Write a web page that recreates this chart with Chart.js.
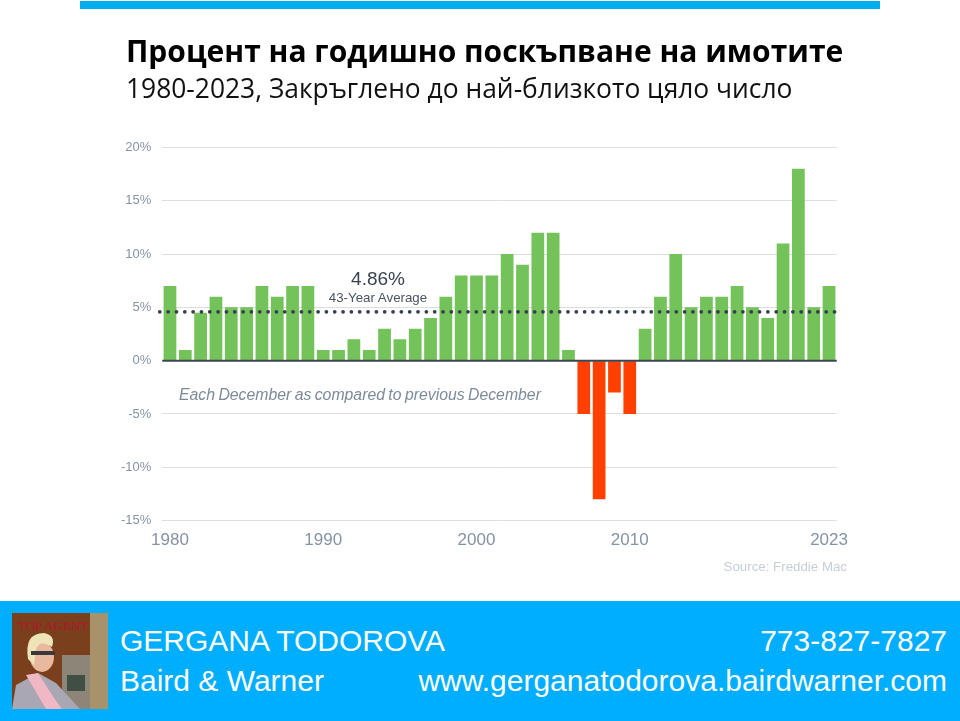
<!DOCTYPE html>
<html lang="bg">
<head>
<meta charset="utf-8">
<title>Процент на годишно поскъпване на имотите</title>
<script src="https://cdn.jsdelivr.net/npm/chart.js@4/dist/chart.umd.min.js"></script>
<style>
  html, body { margin: 0; padding: 0; background: #fff; }
  #page { position: relative; width: 960px; height: 721px; overflow: hidden; }
  #page canvas { position: absolute; left: 0; top: 0; }
  .txt { position: absolute; white-space: nowrap; font-family: "Liberation Sans", Arial, sans-serif; line-height: 1; }
  #topbar { position: absolute; left: 80px; top: 1px; width: 800px; height: 8px; background: #00aeef; }
  #title { left: 126px; top: 33px; font: 700 30px/1.2 "Open Sans", sans-serif; color: #000; }
  #subtitle { left: 126px; top: 73px; font: 400 26.4px/1.2 "Open Sans", sans-serif; color: #111; }
  #avgValue { left: 378px; top: 269px; transform: translateX(-50%); font-size: 19px; color: #3b4350; }
  #avgLabel { left: 378px; top: 291px; transform: translateX(-50%); font-size: 13.3px; color: #4a5360; }
  #note { left: 179px; top: 387px; font-size: 15.8px; font-style: italic; color: #7d8a9b; word-spacing: -1px; }
  #source { right: 113px; top: 560px; font-size: 13.3px; color: #c8ced6; }
  #footer { position: absolute; left: 0; top: 601px; width: 960px; height: 120px; background: #00aeff; }
  #photo { position: absolute; left: 12px; top: 12px; width: 96px; height: 96px; }
  .foot { color: #fff; font-size: 30px; }
</style>
</head>
<body>
<div id="page">
  <div id="topbar"></div>
  <canvas id="chart" width="960" height="721"></canvas>
  <div class="txt" id="title">Процент на годишно поскъпване на имотите</div>
  <div class="txt" id="subtitle">1980-2023, Закръглено до най-близкото цяло число</div>
  <div class="txt" id="avgValue">4.86%</div>
  <div class="txt" id="avgLabel">43-Year Average</div>
  <div class="txt" id="note">Each December as compared to previous December</div>
  <div class="txt" id="source">Source: Freddie Mac</div>
  <div id="footer">
    <svg id="photo" viewBox="0 0 96 96">
      <rect width="96" height="96" fill="#7a3f1c"/>
      <rect x="78" width="18" height="96" fill="#a8926a"/>
      <rect x="50" y="42" width="28" height="54" fill="#8d8578"/>
      <rect x="55" y="62" width="18" height="16" fill="#3f4f45"/>
      <path d="M0 96 L4 72 L26 60 L44 70 L68 96 Z" fill="#a9a7b3"/>
      <path d="M14 62 L26 60 L44 88 L50 96 L34 96 Z" fill="#f0b8c4"/>
      <ellipse cx="30" cy="44" rx="12" ry="15" fill="#e8b99e"/>
      <path d="M16 46 Q12 20 32 20 Q44 22 40 34 Q28 26 24 36 L22 52 Z" fill="#efe3b8"/>
      <rect x="19" y="38" width="24" height="4" fill="#3a3a3a"/>
      <text x="6" y="17" font-family="Liberation Serif, serif" font-size="13" fill="#b5132e">TOP AGENT</text>
    </svg>
    <div class="txt foot" style="left:120px;top:25px">GERGANA TODOROVA</div>
    <div class="txt foot" style="left:120px;top:65px">Baird &amp; Warner</div>
    <div class="txt foot" style="right:13px;top:25px">773-827-7827</div>
    <div class="txt foot" style="right:13px;top:65px">www.gerganatodorova.bairdwarner.com</div>
  </div>
</div>
<script>
// Data
const years = [1980,1981,1982,1983,1984,1985,1986,1987,1988,1989,1990,1991,1992,1993,1994,1995,1996,1997,1998,1999,2000,2001,2002,2003,2004,2005,2006,2007,2008,2009,2010,2011,2012,2013,2014,2015,2016,2017,2018,2019,2020,2021,2022,2023];
const appreciation = [7,1,4.5,6,5,5,7,6,7,7,1,1,2,1,3,2,3,4,6,8,8,8,10,9,12,12,1,-5,-13,-3,-5,3,6,10,5,6,6,7,5,4,11,18,5,7];
const labelledYears = [1980,1990,2000,2010,2023];
const averageLevel = 4.58;

const GREEN = '#73c25a';
const RED = '#ff4000';
const TICK_GREY = '#8593a5';

// Zero baseline and dotted average line, placed with the y scale
const referenceLines = {
    id: 'referenceLines',
    afterDatasetsDraw(chart) {
        const ctx = chart.ctx;
        const area = chart.chartArea;
        const y = chart.scales.y;

        ctx.save();
        ctx.strokeStyle = '#3c4650';
        ctx.lineWidth = 2;
        ctx.beginPath();
        ctx.moveTo(area.left, y.getPixelForValue(0));
        ctx.lineTo(area.right, y.getPixelForValue(0));
        ctx.stroke();

        ctx.strokeStyle = '#363f4c';
        ctx.lineWidth = 3.8;
        ctx.lineCap = 'round';
        ctx.setLineDash([0, 8.33]);
        ctx.beginPath();
        ctx.moveTo(area.left - 2.5, y.getPixelForValue(averageLevel));
        ctx.lineTo(area.right, y.getPixelForValue(averageLevel));
        ctx.stroke();
        ctx.restore();
    }
};

new Chart(document.getElementById('chart').getContext('2d'), {
    type: 'bar',
    data: {
        labels: years,
        datasets: [{
            data: appreciation,
            backgroundColor: appreciation.map(v => v < 0 ? RED : GREEN),
            borderWidth: 0,
            barPercentage: 0.83,
            categoryPercentage: 1
        }]
    },
    plugins: [referenceLines],
    options: {
        responsive: false,
        animation: false,
        layout: { padding: { top: 147.5, right: 123.3, bottom: 0, left: 0 } },
        plugins: { legend: { display: false }, tooltip: { enabled: false } },
        scales: {
            x: {
                grid: { display: false },
                border: { display: false },
                afterFit: s => { s.height = 200.5; },
                ticks: {
                    autoSkip: false,
                    maxRotation: 0,
                    padding: 2,
                    color: TICK_GREY,
                    font: { family: '"Liberation Sans"', size: 17 },
                    callback: function(value) {
                        const year = this.getLabelForValue(value);
                        return labelledYears.includes(year) ? year : '';
                    }
                }
            },
            y: {
                min: -15,
                max: 20,
                afterFit: s => { s.width = 162.3; },
                border: { display: false },
                grid: { color: '#dedede', lineWidth: 1, drawTicks: false },
                ticks: {
                    stepSize: 5,
                    padding: 11,
                    color: TICK_GREY,
                    font: { family: '"Liberation Sans"', size: 13 },
                    callback: v => v + '%'
                }
            }
        }
    }
});
</script>
</body>
</html>
